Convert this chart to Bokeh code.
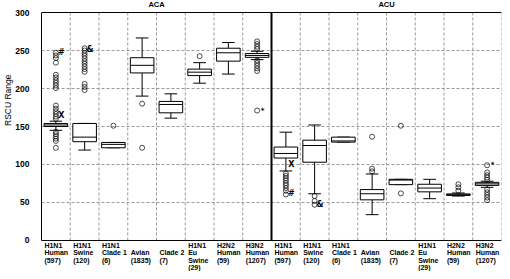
from bokeh.plotting import figure
from bokeh.models import FixedTicker, Span
from bokeh.core.properties import value
from bokeh.embed import file_html
from bokeh.resources import INLINE

# ---------------- data ----------------
groups = ["ACA", "ACU"]
categories = ["H1N1\nHuman\n(597)", "H1N1\nSwine\n(120)", "H1N1\nClade 1\n(6)",
              " \nAvian\n(1835)", " \nClade 2\n(7)", "H1N1\nEu\nSwine\n(29)",
              "H2N2\nHuman\n(59)", "H3N2\nHuman\n(1207)"]
y_ticks = [0, 50, 100, 150, 200, 250, 300]

aca_lower = [145, 119, 122, 190, 161, 207, 219, 238]
aca_q1 = [150, 130, 122, 220.5, 168, 217, 236, 241]
aca_median = [152, 136, 126.5, 230.5, 179, 221.5, 247, 243.5]
aca_q3 = [154, 154, 129, 240.5, 183, 225.5, 253, 246]
aca_upper = [157, 154, 129, 266.5, 193, 234, 260.5, 249]
aca_outliers = [
    [122, 131, 134, 137, 140, 143, 160, 163, 166.5, 170, 173.5, 177.5,
     200.5, 204, 207.5, 211, 214.5, 218, 234, 240, 243.5, 247],
    [198, 202, 206, 222, 225.5, 229, 232.5, 236, 239.5, 243, 246.5, 250, 253],
    [151],
    [122, 180],
    [],
    [242.5],
    [],
    [171, 223, 226.5, 230, 233.5, 237, 252, 255, 258.5, 262],
]

acu_lower = [91.5, 61.5, 129.5, 34, 73.5, 55, 58.5, 70]
acu_q1 = [108.5, 103, 129.5, 53.5, 73.5, 64, 59.3, 72.5]
acu_median = [114.5, 125, 131, 61.5, 79.5, 69, 60.2, 74.5]
acu_q3 = [123, 132, 136, 67, 80.5, 74, 61.3, 76.5]
acu_upper = [142.5, 152, 136, 87.5, 80.5, 80.5, 62.5, 78]
acu_outliers = [
    [60.5, 65.5, 69, 72.5, 75.5, 79, 82, 85, 88],
    [47, 52, 58.5],
    [],
    [91, 94.5, 136.5],
    [62, 151],
    [],
    [65.5, 70, 74],
    [53, 56.5, 60, 63.5, 67, 80, 83, 86, 89.5, 99],
]

note_text = ["#", "X", "&", "*", "#", "X", "&", "*"]
note_group = [0, 0, 0, 0, 1, 1, 1, 1]
note_cat = [0, 0, 1, 7, 0, 0, 1, 7]
note_value = [247, 165, 251, 171, 61.5, 100, 48, 99.5]

# ---------------- figure ----------------
FONT = "Liberation Sans"
ncat = len(categories)
ntot = ncat * len(groups)

p = figure(width=502, height=271, x_range=(0, ntot), y_range=(-40.8, 315.8),
           output_backend="svg", toolbar_location=None,
           title="RSCU Range", title_location="left", x_axis_location=None,
           min_border_left=36, min_border_right=1, min_border_top=0, min_border_bottom=0)
p.outline_line_color = None
p.background_fill_color = "white"
p.border_fill_color = "white"

p.title.align = "right"
p.title.offset = 74
p.title.text_font = FONT
p.title.text_font_size = "8.5px"
p.title.text_font_style = "normal"
p.title.text_color = "black"
try:
    p.title.standoff = 0
except Exception:
    pass

ax = p.yaxis[0]
ax.ticker = FixedTicker(ticks=y_ticks)
ax.bounds = (0, 300)
ax.major_tick_line_color = None
ax.minor_tick_line_color = None
ax.major_tick_out = 0
ax.major_tick_in = 0
ax.major_label_standoff = 12
ax.major_label_text_font = FONT
ax.major_label_text_font_size = "8.5px"
ax.major_label_text_font_style = "bold"
ax.major_label_text_color = "black"
ax.axis_line_color = "black"

p.ygrid.ticker = FixedTicker(ticks=y_ticks[1:-1])
p.ygrid.grid_line_color = "#999999"
p.ygrid.grid_line_dash = "3 2"
p.ygrid.grid_line_width = 1
p.xgrid.visible = False

# vertical dashed gridlines at category boundaries
bounds = [b for b in range(1, ntot + 1) if b != ncat]
p.segment(x0=bounds, y0=[0] * len(bounds), x1=bounds, y1=[300] * len(bounds),
          line_color="#999999", line_dash="3 2", line_width=1)

# frame lines
p.add_layout(Span(location=300, dimension="width", line_color="black", line_width=1))
p.add_layout(Span(location=0, dimension="width", line_color="black", line_width=1))
p.segment(x0=[ncat], y0=[0], x1=[ncat], y1=[300], line_color="black", line_width=2)

# boxes
BW = 0.82
CW = 0.44
for g, (lw, q1, md, q3, uw, outs) in enumerate([
        (aca_lower, aca_q1, aca_median, aca_q3, aca_upper, aca_outliers),
        (acu_lower, acu_q1, acu_median, acu_q3, acu_upper, acu_outliers)]):
    cx = [g * ncat + i + 0.5 for i in range(ncat)]
    p.segment(x0=cx, y0=q3, x1=cx, y1=uw, line_color="black", line_width=1)
    p.segment(x0=cx, y0=lw, x1=cx, y1=q1, line_color="black", line_width=1)
    p.segment(x0=[c - CW / 2 for c in cx], y0=uw, x1=[c + CW / 2 for c in cx], y1=uw,
              line_color="black", line_width=1)
    p.segment(x0=[c - CW / 2 for c in cx], y0=lw, x1=[c + CW / 2 for c in cx], y1=lw,
              line_color="black", line_width=1)
    p.vbar(x=cx, width=BW, bottom=q1, top=q3, fill_color="white",
           line_color="black", line_width=1)
    p.segment(x0=[c - BW / 2 for c in cx], y0=md, x1=[c + BW / 2 for c in cx], y1=md,
              line_color="black", line_width=1)
    ox, oy = [], []
    for i, vals in enumerate(outs):
        ox += [cx[i]] * len(vals)
        oy += vals
    p.scatter(x=ox, y=oy, marker="circle", size=5, fill_color=None,
              line_color="black", line_width=0.7)

# group titles
p.text(x=[(g + 0.5) * ncat for g in range(len(groups))], y=[310.5] * len(groups), text=groups,
       text_font=value(FONT), text_font_size="7.5px", text_font_style="bold",
       text_align="center", text_baseline="middle", text_color="black")

# category labels (below the axis)
lx = [g * ncat + i + 0.1 for g in range(len(groups)) for i in range(ncat)]
lt = categories * len(groups)
p.text(x=lx, y=[-2] * len(lx), text=lt, text_font=value(FONT), text_font_size="7px",
       text_font_style="bold", text_align="left", text_baseline="top",
       text_line_height=1.07, text_color="black")

# annotation marks
nx = [note_group[k] * ncat + note_cat[k] + 0.5 + 0.19 for k in range(len(note_text))]
big = [k for k in range(len(note_text)) if note_text[k] != "*"]
small = [k for k in range(len(note_text)) if note_text[k] == "*"]
p.text(x=[nx[k] for k in big], y=[note_value[k] for k in big], text=[note_text[k] for k in big],
       text_font=value("DejaVu Sans"), text_font_size="8px", text_font_style="bold",
       text_align="center", text_baseline="middle", text_color="black")
p.text(x=[nx[k] for k in small], y=[note_value[k] for k in small],
       text=[note_text[k] for k in small],
       text_font=value("DejaVu Sans"), text_font_size="7px", text_font_style="bold",
       text_align="center", text_baseline="middle", text_color="black")

open("out.html", "w").write(file_html(p, INLINE))
